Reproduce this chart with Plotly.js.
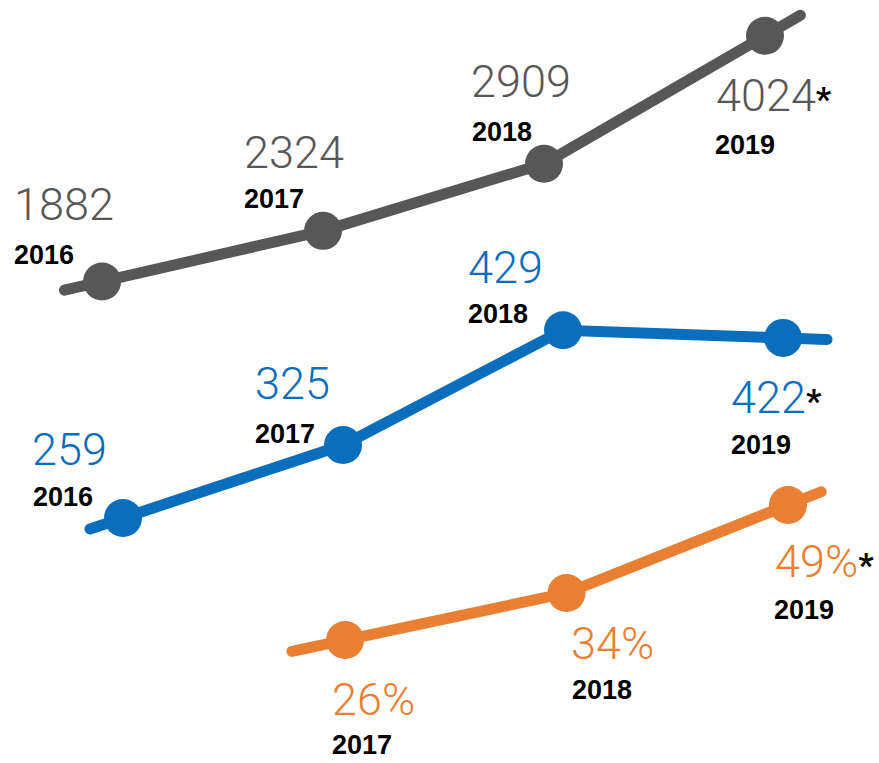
<!DOCTYPE html>
<html><head><meta charset="utf-8">
<script src="https://cdn.plot.ly/plotly-3.0.1.min.js"></script>
<style>html,body{margin:0;padding:0;background:#fff}#chart{width:879px;height:763px}</style>
</head><body><div id="chart"></div>
<script>
// ---- data ----
const grayYears = [2016, 2017, 2018, 2019];
const grayValues = [1882, 2324, 2909, 4024];
const grayLabels = ["1882", "2324", "2909", "4024*"];

const blueYears = [2016, 2017, 2018, 2019];
const blueValues = [259, 325, 429, 422];
const blueLabels = ["259", "325", "429", "422*"];

const orangeYears = [2017, 2018, 2019];
const orangeValues = [26, 34, 49];
const orangeLabels = ["26%", "34%", "49%*"];

// ---- styling / placement ----
const PAD = -4; // compensation for annotation box padding
const series = [
  {years: grayYears, values: grayValues, labels: grayLabels, color: '#575757', xa: 'x', ya: 'y',
   ext: [0.17, 0.16],
   valOff: [[-86, 77], [-77, 78], [-71, 82], [-47, -60]],
   yearOff: [[-87, 27], [-78, 32], [-71, 32], [-49, -109]]},
  {years: blueYears, values: blueValues, labels: blueLabels, color: '#0a6ebd', xa: 'x2', ya: 'y2',
   ext: [0.15, 0.2],
   valOff: [[-89, 68], [-86, 62], [-93, 63], [-50, -60]],
   yearOff: [[-89, 21], [-87, 11], [-94, 16], [-51, -107]]},
  {years: orangeYears, values: orangeValues, labels: orangeLabels, color: '#e97f32', xa: 'x3', ya: 'y3',
   ext: [0.24, 0.15],
   valOff: [[-11, -60], [6, -50], [-11, -57]],
   yearOff: [[-12, -105], [6, -97], [-13, -105]]}
];

const valueFont = {family: 'Roboto, "Open Sans", sans-serif', size: 45, weight: 300};
const yearFont = {family: '"Liberation Sans", Arial, sans-serif', size: 27, color: '#000', weight: 700};

const traces = [];
const annotations = [];
series.forEach(s => {
  const n = s.years.length;
  // line with short stubs beyond the end points, extrapolated from the data
  const f0 = s.ext[0], f1 = s.ext[1];
  const lx = [s.years[0] - f0 * (s.years[1] - s.years[0])].concat(s.years,
             [s.years[n-1] + f1 * (s.years[n-1] - s.years[n-2])]);
  const ly = [s.values[0] - f0 * (s.values[1] - s.values[0])].concat(s.values,
             [s.values[n-1] + f1 * (s.values[n-1] - s.values[n-2])]);
  traces.push({x: lx, y: ly, xaxis: s.xa, yaxis: s.ya, mode: 'lines',
    line: {color: s.color, width: 11}, hoverinfo: 'skip', showlegend: false});
  traces.push({x: s.years, y: s.values, xaxis: s.xa, yaxis: s.ya, mode: 'markers',
    marker: {color: s.color, size: 38, line: {width: 0}}, showlegend: false});
  s.years.forEach((yr, i) => {
    let txt = s.labels[i];
    if (txt.endsWith('*')) {
      txt = txt.slice(0, -1) + "<span style='color:#000;font-weight:bold;font-size:34px'>*</span>";
    }
    annotations.push({x: yr, y: s.values[i], xref: s.xa, yref: s.ya, text: txt, showarrow: false,
      xanchor: 'left', yanchor: 'middle', xshift: s.valOff[i][0] + PAD, yshift: s.valOff[i][1],
      font: Object.assign({color: s.color}, valueFont)});
    annotations.push({x: yr, y: s.values[i], xref: s.xa, yref: s.ya, text: String(yr), showarrow: false,
      xanchor: 'left', yanchor: 'middle', xshift: s.yearOff[i][0] + PAD + 1, yshift: s.yearOff[i][1],
      font: yearFont});
  });
});

const hidden = {visible: false, fixedrange: true, showgrid: false, zeroline: false};
const layout = {
  width: 879, height: 763,
  margin: {l: 0, r: 0, t: 0, b: 0},
  paper_bgcolor: '#fff', plot_bgcolor: '#fff',
  showlegend: false,
  xaxis: Object.assign({range: [2015.538, 2019.516]}, hidden),
  xaxis2: Object.assign({range: [2015.441, 2019.436], overlaying: 'x'}, hidden),
  xaxis3: Object.assign({range: [2015.442, 2019.411], overlaying: 'x'}, hidden),
  yaxis: Object.assign({range: [-2314, 4336]}, hidden),
  yaxis2: Object.assign({range: [37.2, 727.9], overlaying: 'y'}, hidden),
  yaxis3: Object.assign({range: [5.05, 135], overlaying: 'y'}, hidden),
  annotations: annotations
};

Plotly.newPlot('chart', traces, layout, {staticPlot: true, displayModeBar: false}).then(() => {
  document.querySelectorAll('#chart .js-line').forEach(p => p.style.strokeLinecap = 'round');
});
</script>
</body></html>
